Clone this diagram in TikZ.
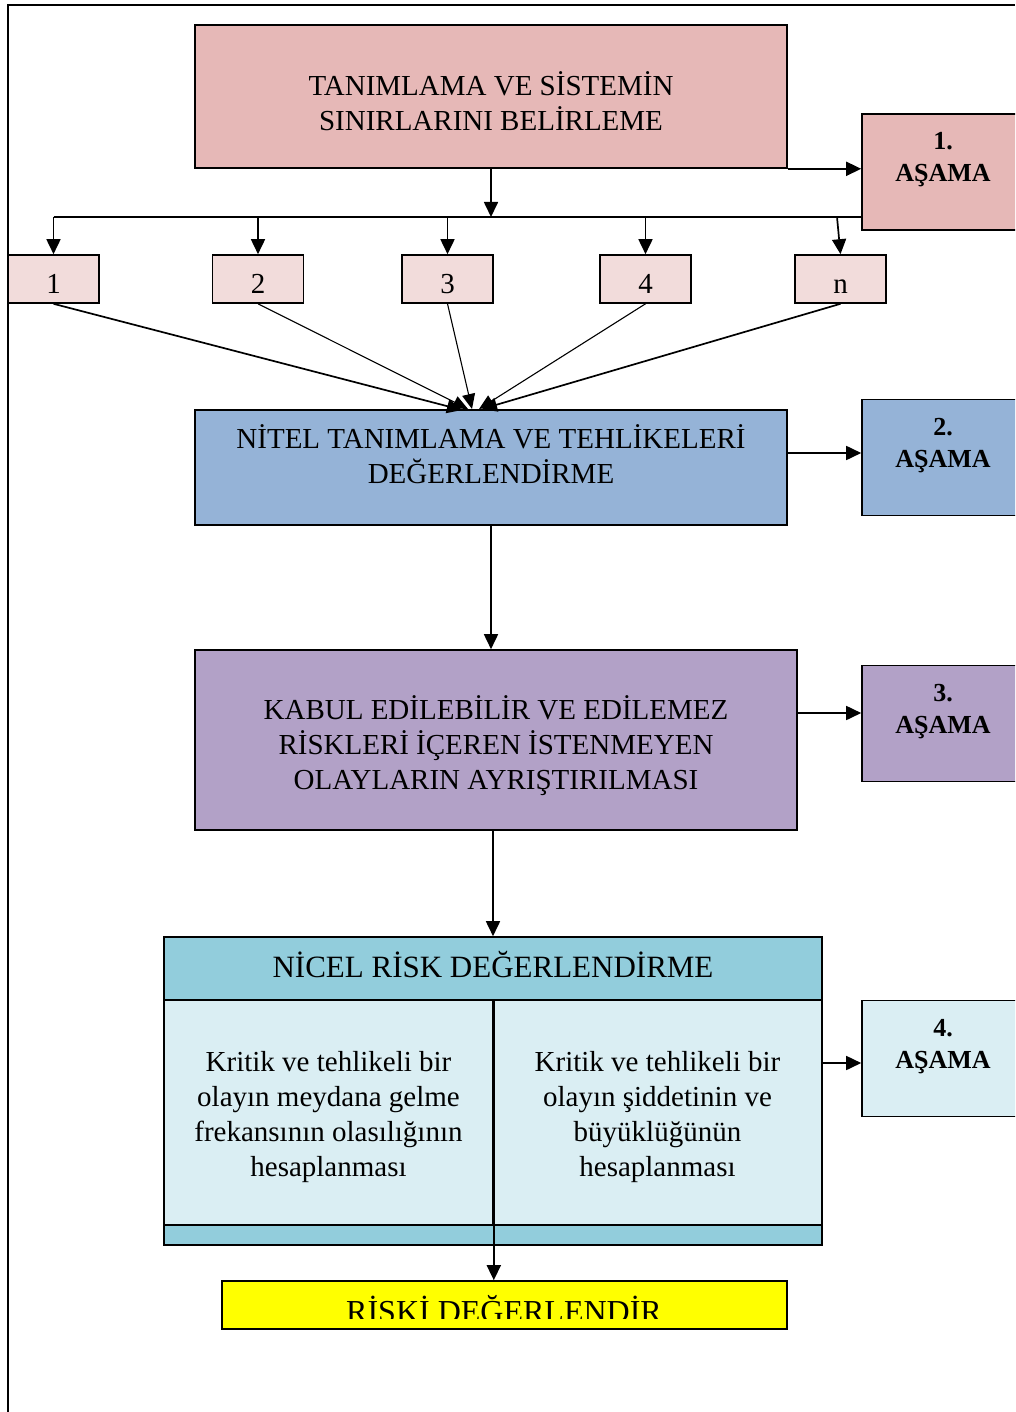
\documentclass[tikz,border=0pt]{standalone}
\usepackage{fontspec}
\setmainfont{Liberation Serif}
\usetikzlibrary{arrows.meta,calc}
\definecolor{pinkA}{HTML}{E6B8B7}
\definecolor{pinkB}{HTML}{F2DCDB}
\definecolor{blueA}{HTML}{95B3D7}
\definecolor{purpA}{HTML}{B2A1C7}
\definecolor{cyanA}{HTML}{92CDDC}
\definecolor{cyanB}{HTML}{DAEEF3}
\definecolor{yelA}{HTML}{FFFF00}
\begin{document}
\begin{tikzpicture}[x=1pt,y=-1pt,
  box/.style={draw=black,line width=1.6pt,rectangle,inner sep=0pt},
  arr/.style={line width=1.7pt,-{Triangle[length=15pt,width=14pt]}},
  thinarr/.style={line width=1.1pt,-{Triangle[length=15pt,width=13pt]}},
  plain/.style={line width=1.6pt},
  big/.style={font=\fontsize{29}{35}\selectfont,align=center,inner sep=0pt},
  hdrtxt/.style={font=\fontsize{31}{36}\selectfont,align=center,inner sep=0pt},
  stagetxt/.style={font=\bfseries\fontsize{26}{32}\selectfont,align=center,inner sep=0pt},
  stagebox/.style={box,minimum width=162pt,minimum height=116pt},
  smallbox/.style={box,fill=pinkB,minimum width=91pt,minimum height=48pt},
  numtxt/.style={font=\fontsize{29}{35}\selectfont,inner sep=0pt}]
\useasboundingbox (0,0) rectangle (1015,1412);
\clip (0,0) rectangle (1015,1412);
\fill[white] (0,0) rectangle (1015,1412);
% frame
\draw[plain] (8,1412) -- (8,5) -- (1015,5);

% stage 1
\node[box,fill=pinkA,minimum width=592pt,minimum height=143pt] (b1) at (491,96.5) {};
\node[big] (b1t) at (491,101) {TANIMLAMA VE SİSTEMİN\\SINIRLARINI BELİRLEME};
\node[stagebox,fill=pinkA] (s1) at (943,172) {};
\node[stagetxt] (s1t) at (943,160) {1.\\AŞAMA};
\draw[arr] (b1.south east) -- (b1.south east -| s1.west);

% bus and small boxes
\coordinate (bus) at (491,217);
\coordinate (busL) at (53.5,217);
\draw[arr] (b1.south) -- (bus);
\draw[plain] (busL) -- (bus -| s1.west);
\node[smallbox] (n1) at (53.5,279) {};
\node[smallbox] (n2) at (258,279) {};
\node[smallbox] (n3) at (447.5,279) {};
\node[smallbox] (n4) at (645.5,279) {};
\node[smallbox] (n5) at (840.5,279) {};
\node[numtxt,anchor=base] (n1t) at (53.5,294) {1};
\node[numtxt,anchor=base] (n2t) at (258,294) {2};
\node[numtxt,anchor=base] (n3t) at (447.5,294) {3};
\node[numtxt,anchor=base] (n4t) at (645.5,294) {4};
\node[numtxt,anchor=base] (n5t) at (840.5,294) {n};
\draw[arr] (busL) -- (n1.north);
\draw[arr] (n2.north |- bus) -- (n2.north);
\draw[arr] (n3.north |- bus) -- (n3.north);
\draw[arr] (n4.north |- bus) -- (n4.north);
\coordinate (busn) at (837,217);
\draw[arr] (busn) -- (n5.north);

% stage 2
\node[box,fill=blueA,minimum width=592pt,minimum height=115pt] (b2) at (491,467.5) {};
\node[big] (b2t) at (491,454) {NİTEL TANIMLAMA VE TEHLİKELERİ\\DEĞERLENDİRME};
\node[stagebox,fill=blueA] (s2) at (943,457.5) {};
\node[stagetxt] (s2t) at (943,446) {2.\\AŞAMA};
\coordinate (c1) at (462,410);
\coordinate (c2) at (468,409);
\coordinate (c3) at (472,409);
\coordinate (c4) at (479,409);
\coordinate (c5) at (482,409);
\draw[arr] (n1.south) -- (c1);
\draw[thinarr] (n2.south) -- (c2);
\draw[thinarr] (n3.south) -- (c3);
\draw[thinarr] (n4.south) -- (c4);
\draw[arr] (n5.south) -- (c5);
\coordinate (a2) at (787,453);
\draw[arr] (a2) -- (a2 -| s2.west);

% stage 3
\node[box,fill=purpA,minimum width=602pt,minimum height=180pt] (b3) at (496,740) {};
\node[big] (b3t) at (496,746) {KABUL EDİLEBİLİR VE EDİLEMEZ\\RİSKLERİ İÇEREN İSTENMEYEN\\OLAYLARIN AYRIŞTIRILMASI};
\node[stagebox,fill=purpA] (s3) at (943,723.5) {};
\node[stagetxt] (s3t) at (943,712) {3.\\AŞAMA};
\draw[arr] (b2.south) -- (b2.south |- b3.north);
\coordinate (a3) at (797,713);
\draw[arr] (a3) -- (a3 -| s3.west);

% stage 4
\node[box,fill=cyanA,minimum width=658pt,minimum height=63pt] (h4) at (493,968.5) {};
\node[hdrtxt] (h4t) at (493,965) {NİCEL RİSK DEĞERLENDİRME};
\node[box,fill=cyanB,minimum width=329pt,minimum height=225pt] (l4) at (328.5,1112.5) {};
\node[box,fill=cyanB,minimum width=329pt,minimum height=225pt] (r4) at (657.5,1112.5) {};
\node[box,fill=cyanA,minimum width=658pt,minimum height=20pt] (f4) at (493,1235) {};
\node[big] (l4t) at (328.5,1117) {Kritik ve tehlikeli bir\\olayın meydana gelme\\frekansının olasılığının\\hesaplanması};
\node[big] (r4t) at (657.5,1117) {Kritik ve tehlikeli bir\\olayın şiddetinin ve\\büyüklüğünün\\hesaplanması};
\draw[arr] (b3.south -| h4.north) -- (h4.north);
\node[stagebox,fill=cyanB] (s4) at (943,1058.5) {};
\node[stagetxt] (s4t) at (943,1047) {4.\\AŞAMA};
\coordinate (a4) at (822,1063);
\draw[arr] (a4) -- (a4 -| s4.west);

% final
\node[box,fill=yelA,minimum width=565pt,minimum height=48pt] (rk) at (504.5,1305) {};
\draw[arr] (l4.north east) -- (l4.north east |- rk.north);
\begin{scope}
\clip (222,1281) rectangle (787,1318);
\node[font=\fontsize{32}{38}\selectfont,inner sep=0pt,anchor=base] (rkt) at (504,1322) {RİSKİ DEĞERLENDİR};
\end{scope}
\end{tikzpicture}
\end{document}
